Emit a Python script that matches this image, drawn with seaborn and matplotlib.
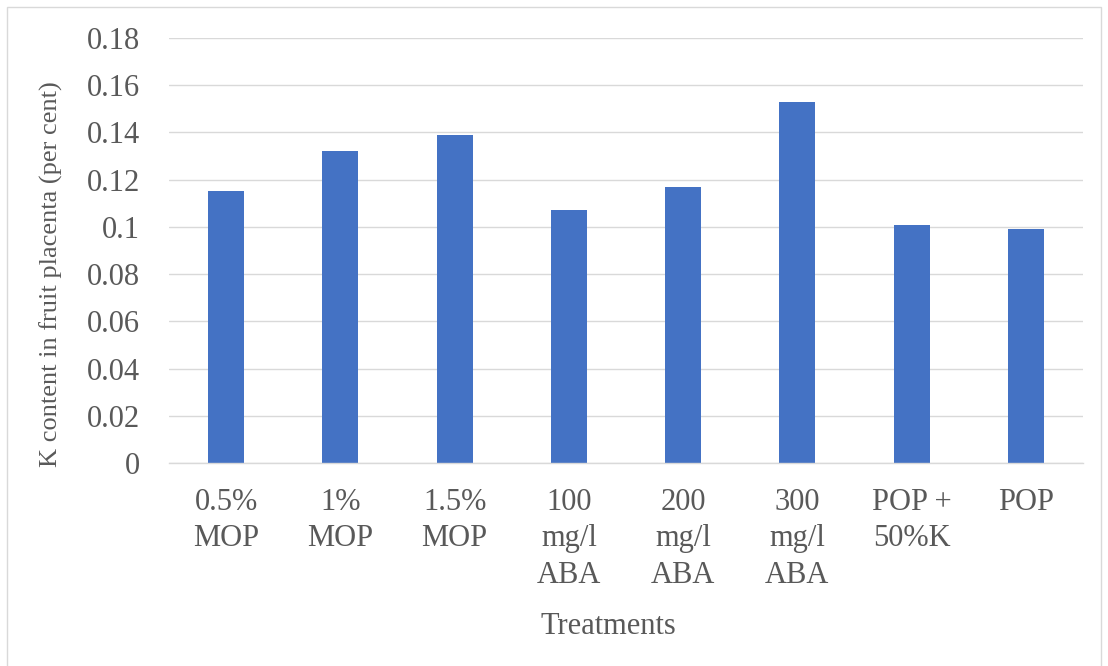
import matplotlib
matplotlib.use("Agg")
import matplotlib.pyplot as plt
import seaborn as sns
import pandas as pd
from matplotlib.patches import Rectangle

categories = ["0.5%\nMOP", "1%\nMOP", "1.5%\nMOP", "100\nmg/l\nABA", "200\nmg/l\nABA",
              "300\nmg/l\nABA", "POP +\n50%K", "POP"]
values = [0.115, 0.132, 0.139, 0.107, 0.117, 0.153, 0.101, 0.099]
yticks = [0, 0.02, 0.04, 0.06, 0.08, 0.1, 0.12, 0.14, 0.16, 0.18]
ytick_labels = ["0", "0.02", "0.04", "0.06", "0.08", "0.1", "0.12", "0.14", "0.16", "0.18"]

sns.set_theme(style="white")
plt.rcParams["font.family"] = ["Liberation Serif", "DejaVu Serif"]

W, H = 1108, 666
fig = plt.figure(figsize=(W / 100, H / 100), dpi=100)
left, right, top, bottom = 169, 1083, 38, 463
ax = fig.add_axes([left / W, 1 - bottom / H, (right - left) / W, (bottom - top) / H])

df = pd.DataFrame({"Treatment": categories, "K": values})
sns.barplot(data=df, x="Treatment", y="K", ax=ax, color="#4472C4", saturation=1,
            width=0.315, edgecolor="#4472C4", linewidth=0)

text_color = "#595959"
grid_color = "#D9D9D9"
ax.set_ylim(0, 0.18)
ax.set_yticks(yticks)
ax.set_yticklabels(ytick_labels)
ax.set_xlim(-0.5, len(categories) - 0.5)
ax.yaxis.grid(True, color=grid_color, linewidth=1.0)
ax.set_axisbelow(True)
for s in ["top", "right", "left"]:
    ax.spines[s].set_visible(False)
ax.spines["bottom"].set_color(grid_color)
ax.spines["bottom"].set_linewidth(1.0)
ax.tick_params(axis="y", length=0, pad=21, labelsize=22, labelcolor=text_color)
ax.tick_params(axis="x", length=0, pad=18, labelsize=22, labelcolor=text_color)
for lab in ax.get_xticklabels():
    lab.set_linespacing(1.33)

ax.set_ylabel("K content in fruit placenta (per cent)", fontsize=19, color=text_color)
ax.yaxis.set_label_coords(-0.1165, 0.445)
ax.set_xlabel("Treatments", fontsize=22, color=text_color)
ax.xaxis.set_label_coords((608 - left) / (right - left), -(627 - bottom) / (bottom - top))
ax.xaxis.label.set_va("center")

fig.patches.append(Rectangle((7 / W, -0.01), (1101 - 7) / W, 1 - 7 / H + 0.01,
                             transform=fig.transFigure, fill=False,
                             edgecolor=grid_color, linewidth=1.0))

fig.savefig("out.png", dpi=100, facecolor="white")
